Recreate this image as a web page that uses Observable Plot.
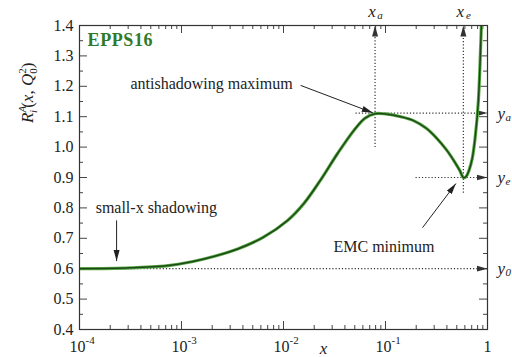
<!DOCTYPE html>
<html><head><meta charset="utf-8">
<script src="https://cdn.jsdelivr.net/npm/d3@7"></script>
<script src="https://cdn.jsdelivr.net/npm/@observablehq/plot@0.6"></script>
<style>body{margin:0;background:#fff} svg{display:block}</style>
</head><body><div id="chart"></div>
<script>
// EPPS16 nuclear modification curve
const curveX = [1e-4, 3.16e-4, 7.76e-4, 1.66e-3, 3.55e-3, 6.31e-3, 0.011, 0.0158, 0.0229, 0.0339, 0.049, 0.063, 0.079, 0.1, 0.141, 0.186, 0.251, 0.316, 0.398, 0.479, 0.537, 0.582, 0.617, 0.661, 0.708, 0.759, 0.813, 0.871, 0.912];
const curveY = [0.600, 0.603, 0.611, 0.632, 0.665, 0.703, 0.759, 0.814, 0.890, 0.979, 1.055, 1.095, 1.110, 1.109, 1.100, 1.088, 1.062, 1.030, 0.990, 0.950, 0.922, 0.899, 0.903, 0.925, 0.962, 1.035, 1.150, 1.400, 1.600];

// Axis ticks
const xMajor = [1e-4, 1e-3, 1e-2, 1e-1, 1];
const xTickBase = ["10", "10", "10", "10"];
const xTickExp = ["-4", "-3", "-2", "-1"];
const yMajor = [0.4, 0.5, 0.6, 0.7, 0.8, 0.9, 1.0, 1.1, 1.2, 1.3, 1.4];
const yMinor = [0.45, 0.55, 0.65, 0.75, 0.85, 0.95, 1.05, 1.15, 1.25, 1.35];
const xMinor = xMajor.slice(0, -1).flatMap(d => [2,3,4,5,6,7,8,9].map(k => k * d));

// Characteristic points
const xA = 0.079, yA = 1.112, xE = 0.58, yE = 0.90, y0 = 0.60;
const guides = [
  {x1: xA, y1: 1.0, x2: xA, y2: 1.4},
  {x1: xE, y1: 0.85, x2: xE, y2: 1.4},
  {x1: 0.0508, y1: yA, x2: 1, y2: yA},
  {x1: 0.197, y1: yE, x2: 1, y2: yE},
  {x1: 1e-4, y1: y0, x2: 1, y2: y0}
];
const rightLabels = [{v: yA, s: "a"}, {v: yE, s: "e"}, {v: y0, s: "0"}];
const topLabels = [{v: xA, s: "a"}, {v: xE, s: "e"}];

// Annotations
const notes = [
  {x: 3.16e-4, y: 1.209, t: "antishadowing maximum"},
  {x: 1.44e-4, y: 0.801, t: "small-x shadowing"},
  {x: 0.0309, y: 0.673, t: "EMC minimum"}
];
const noteArrows = [
  {x1: 0.0147, y1: 1.203, x2: 0.075, y2: 1.113},
  {x1: 2.31e-4, y1: 0.759, x2: 2.31e-4, y2: 0.625},
  {x1: 0.2307, y1: 0.735, x2: 0.49, y2: 0.880}
];

const serif = "'Liberation Serif', 'Times New Roman', serif";
const ink = "#222";
const tickOpts = (extra) => Object.assign({stroke: "#444", strokeWidth: 1}, extra);
const txt = (extra) => Object.assign({fontFamily: serif, fill: ink, lineAnchor: "middle"}, extra);
const H = 304, W = 408;

const plot = Plot.plot({
  width: 512, height: 357,
  marginLeft: 79, marginRight: 25, marginTop: 25, marginBottom: 28,
  style: {fontFamily: serif, fontSize: "16px", color: ink, background: "#fff", overflow: "visible"},
  x: {type: "log", domain: [1e-4, 1], axis: null},
  y: {domain: [0.4, 1.4]},
  marks: [
    // ticks (inward, all four sides)
    Plot.tickX(xMajor, tickOpts({x: d => d, insetTop: H - 8})),
    Plot.tickX(xMinor, tickOpts({x: d => d, insetTop: H - 4})),
    Plot.tickX(xMajor, tickOpts({x: d => d, insetBottom: H - 8})),
    Plot.tickX(xMinor, tickOpts({x: d => d, insetBottom: H - 4})),
    Plot.tickY(yMajor, tickOpts({y: d => d, insetRight: W - 8})),
    Plot.tickY(yMinor, tickOpts({y: d => d, insetRight: W - 4})),
    Plot.tickY(yMajor, tickOpts({y: d => d, insetLeft: W - 8})),
    Plot.tickY(yMinor, tickOpts({y: d => d, insetLeft: W - 4})),
    Plot.axisY(yMajor, {tickSize: 0, tickPadding: 6, tickFormat: d => d.toFixed(1), fontSize: 16, fontFamily: serif, fill: ink}),
    // x tick labels
    Plot.text(xMajor.slice(0, 4), txt({x: d => d, frameAnchor: "bottom", text: (d, i) => xTickBase[i], textAnchor: "end", dx: 6, dy: 17, fontSize: 16})),
    Plot.text(xMajor.slice(0, 4), txt({x: d => d, frameAnchor: "bottom", text: (d, i) => xTickExp[i], textAnchor: "start", dx: 6, dy: 11, fontSize: 11})),
    Plot.text([1], txt({x: d => d, frameAnchor: "bottom", text: () => "1", dy: 17, fontSize: 16})),
    Plot.text([0.0247], txt({x: d => d, frameAnchor: "bottom", text: () => "x", dy: 19, fontSize: 17, fontStyle: "italic"})),
    // guides
    Plot.link(guides, {x1: "x1", y1: "y1", x2: "x2", y2: "y2", stroke: "#333", strokeWidth: 1.2, strokeDasharray: "1.2,2", markerEnd: "arrow"}),
    // curve
    Plot.line(curveX.map((x, i) => ({x, y: curveY[i]})), {x: "x", y: "y", curve: "catmull-rom", stroke: "#5aa845", strokeWidth: 3.2, clip: true}),
    Plot.line(curveX.map((x, i) => ({x, y: curveY[i]})), {x: "x", y: "y", curve: "catmull-rom", stroke: "#1b4a16", strokeWidth: 1.5, clip: true}),
    // annotations
    Plot.link(noteArrows, {x1: "x1", y1: "y1", x2: "x2", y2: "y2", stroke: ink, strokeWidth: 1, markerEnd: "arrow"}),
    Plot.text(notes, txt({x: "x", y: "y", text: "t", textAnchor: "start", fontSize: 16})),
    Plot.text([1.2e-4], txt({x: d => d, y: () => 1.351, text: () => "EPPS16", textAnchor: "start", fontSize: 18, fontWeight: "bold", fill: "#2f7a2a"})),
    // right labels y_a, y_e, y_0
    Plot.text(rightLabels, txt({y: "v", frameAnchor: "right", text: () => "y", textAnchor: "start", dx: 10, fontSize: 17, fontStyle: "italic"})),
    Plot.text(rightLabels, txt({y: "v", frameAnchor: "right", text: "s", textAnchor: "start", dx: 18, dy: 4, fontSize: 11, fontStyle: "italic"})),
    // top labels x_a, x_e
    Plot.text(topLabels, txt({x: "v", frameAnchor: "top", text: () => "x", textAnchor: "middle", dx: -3, dy: -14, fontSize: 17, fontStyle: "italic"})),
    Plot.text(topLabels, txt({x: "v", frameAnchor: "top", text: "s", textAnchor: "middle", dx: 5, dy: -10, fontSize: 11, fontStyle: "italic"})),
    Plot.frame({stroke: "#333", strokeWidth: 1.2})
  ]
});

// filled, slender arrowheads
const svgns = "http://www.w3.org/2000/svg";
plot.querySelectorAll("marker").forEach(m => {
  const c = m.getAttribute("stroke") || ink;
  m.setAttribute("viewBox", "-11 -3.5 11.5 7");
  m.setAttribute("markerWidth", 11.5);
  m.setAttribute("markerHeight", 7);
  m.setAttribute("markerUnits", "userSpaceOnUse");
  m.setAttribute("refX", 0);
  m.setAttribute("refY", 0);
  m.setAttribute("fill", c);
  m.setAttribute("stroke", "none");
  m.removeAttribute("stroke-width");
  m.innerHTML = "";
  const p = document.createElementNS(svgns, "path");
  p.setAttribute("d", "M-11,-3L0,0L-11,3Z");
  p.setAttribute("stroke-dasharray", "none");
  m.appendChild(p);
});

// widen the EPPS16 tag a little
plot.querySelectorAll("text").forEach(t => {
  if (t.textContent === "EPPS16") t.setAttribute("letter-spacing", "0.6");
});

// rotated y-axis label R_i^A(x, Q_0^2)
const yl = d3.select(plot).append("text")
  .attr("transform", "translate(33,123) rotate(-90)")
  .attr("text-anchor", "start")
  .attr("font-family", serif)
  .attr("font-size", 17)
  .attr("fill", ink);
yl.append("tspan").attr("font-style", "italic").text("R");
yl.append("tspan").attr("font-style", "italic").attr("font-size", 11).attr("dy", -7).text("A");
yl.append("tspan").attr("font-style", "italic").attr("font-size", 11).attr("dx", -7).attr("dy", 11).text("i");
yl.append("tspan").attr("dx", 2).attr("dy", -4).text("(");
yl.append("tspan").attr("font-style", "italic").text("x");
yl.append("tspan").text(", ");
yl.append("tspan").attr("font-style", "italic").text("Q");
yl.append("tspan").attr("font-size", 11).attr("dy", -7).text("2");
yl.append("tspan").attr("font-size", 11).attr("dx", -5.5).attr("dy", 11).text("0");
yl.append("tspan").attr("dy", -4).text(")");

document.getElementById("chart").appendChild(plot);
</script>
</body></html>
